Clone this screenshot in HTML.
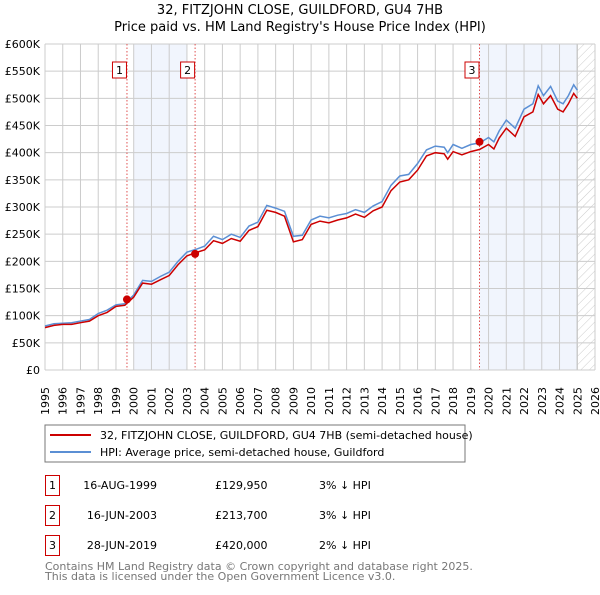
<!DOCTYPE html>
<html><head><meta charset="utf-8"><style>
body{margin:0;background:#fff;font-family:"Liberation Sans","DejaVu Sans",sans-serif;}
svg text{font-family:"DejaVu Sans","Liberation Sans",sans-serif;}
</style></head><body>
<svg id="c" width="600" height="590" xmlns="http://www.w3.org/2000/svg">
<defs><pattern id="hatch" width="6" height="6" patternUnits="userSpaceOnUse" patternTransform="rotate(45)"><line x1="0" y1="0" x2="0" y2="6" stroke="#ccc" stroke-width="1"/></pattern></defs>
<text x="300" y="14" text-anchor="middle" font-size="13" fill="#000">32, FITZJOHN CLOSE, GUILDFORD, GU4 7HB</text>
<text x="300" y="31" text-anchor="middle" font-size="13" fill="#000">Price paid vs. HM Land Registry's House Price Index (HPI)</text>
<g id="plot"></g>
<rect x="45" y="425" width="420" height="37" fill="#fff" stroke="#777"/>
<line x1="50" y1="435" x2="91" y2="435" stroke="#cc0000" stroke-width="2"/>
<text x="100" y="439" font-size="11">32, FITZJOHN CLOSE, GUILDFORD, GU4 7HB (semi-detached house)</text>
<line x1="50" y1="452" x2="91" y2="452" stroke="#5b8fd4" stroke-width="2"/>
<text x="100" y="456" font-size="11">HPI: Average price, semi-detached house, Guildford</text>
<g font-size="11">
<rect x="45.5" y="475.5" width="14" height="20" fill="#fff" stroke="#cc0000"/><text x="52.5" y="489" text-anchor="middle">1</text>
<text x="157" y="489" text-anchor="end">16-AUG-1999</text><text x="215" y="489">£129,950</text><text x="319" y="489">3% ↓ HPI</text>
<rect x="45.5" y="505.5" width="14" height="20" fill="#fff" stroke="#cc0000"/><text x="52.5" y="519" text-anchor="middle">2</text>
<text x="157" y="519" text-anchor="end">16-JUN-2003</text><text x="215" y="519">£213,700</text><text x="319" y="519">3% ↓ HPI</text>
<rect x="45.5" y="535.5" width="14" height="20" fill="#fff" stroke="#cc0000"/><text x="52.5" y="549" text-anchor="middle">3</text>
<text x="157" y="549" text-anchor="end">28-JUN-2019</text><text x="215" y="549">£420,000</text><text x="319" y="549">2% ↓ HPI</text>
</g>
<text x="45" y="570" font-size="11" fill="#777">Contains HM Land Registry data © Crown copyright and database right 2025.</text>
<text x="45" y="580" font-size="11" fill="#777">This data is licensed under the Open Government Licence v3.0.</text>
</svg>
<script>
const years=[1995,1995.5,1996,1996.5,1997,1997.5,1998,1998.5,1999,1999.5,2000,2000.5,2001,2001.5,2002,2002.5,2003,2003.5,2004,2004.5,2005,2005.5,2006,2006.5,2007,2007.5,2008,2008.5,2009,2009.5,2010,2010.5,2011,2011.5,2012,2012.5,2013,2013.5,2014,2014.5,2015,2015.5,2016,2016.5,2017,2017.5,2017.7,2018,2018.5,2019,2019.5,2020,2020.3,2020.6,2021,2021.5,2022,2022.5,2022.8,2023.1,2023.5,2023.9,2024.2,2024.5,2024.8,2025];
const hpi=[81,85,86,87,90,93,104,110,120,122,138,165,163,172,180,200,217,222,228,246,240,250,244,265,272,303,298,292,246,248,276,283,280,285,288,295,290,302,310,340,357,360,380,405,412,410,400,415,408,415,418,428,420,440,460,445,480,490,523,505,522,495,490,505,525,515];
const price=[78,82,84,84,87,90,100,106,117,119,134,160,158,166,174,194,210,216,221,238,233,242,237,257,264,294,290,283,236,240,268,274,271,276,280,287,281,293,300,330,346,350,368,394,400,398,388,402,396,402,406,415,407,427,445,430,466,475,507,490,505,480,475,490,509,500];
const ticksY=[0,50,100,150,200,250,300,350,400,450,500,550,600];
const tickLabelsY=['£0','£50K','£100K','£150K','£200K','£250K','£300K','£350K','£400K','£450K','£500K','£550K','£600K'];
const saleYears=[1999.62,2003.46,2019.49];
const salePrices=[129.95,213.7,420];
const saleLabels=['1','2','3'];
const bands=[[2000.0,2003.0],[2019.49,2025.0]];
const X0=45,X1=595,Y0=370,Y1=44;
const sx=y=>X0+(y-1995)/31*(X1-X0);
const sy=v=>Y0-v/600*(Y0-Y1);
const g=document.getElementById('plot');const NS='http://www.w3.org/2000/svg';
function mk(t,a,p){const e=document.createElementNS(NS,t);for(const k in a)e.setAttribute(k,a[k]);(p||g).appendChild(e);return e;}
bands.forEach(b=>{const r=mk('rect',{x:sx(b[0]),y:Y1,width:sx(b[1])-sx(b[0]),height:Y0-Y1,fill:'#eef3fc',opacity:0.8});

});
const h=mk('rect',{x:sx(2025),y:Y1,width:X1-sx(2025),height:Y0-Y1,fill:'url(#hatch)'});


mk('line',{x1:sx(2025),y1:Y1,x2:sx(2025),y2:Y0,stroke:'#999'});
for(let y=1995;y<=2026;y++){const l=mk('line',{x1:sx(y),y1:Y1,x2:sx(y),y2:Y0,stroke:'#ccc'});


const t=mk('text',{transform:`translate(${sx(y)+4},${Y0+45}) rotate(-90)`,'font-size':11});t.textContent=y;

}
ticksY.forEach((v,i)=>{const l=mk('line',{x1:X0,y1:sy(v),x2:X1,y2:sy(v),stroke:'#ccc'});


const t=mk('text',{x:40,y:sy(v)+4,'text-anchor':'end','font-size':11});t.textContent=tickLabelsY[i];

});
saleYears.forEach((s,i)=>{mk('line',{x1:sx(s),y1:Y1,x2:sx(s),y2:Y0,stroke:'#e05050','stroke-dasharray':'1.5,2'});});
const pts=a=>a.map((v,i)=>sx(years[i]).toFixed(1)+','+sy(v).toFixed(1)).join(' ');
const lb=mk('polyline',{points:pts(hpi),fill:'none',stroke:'#5b8fd4','stroke-width':1.5});


const lr=mk('polyline',{points:pts(price),fill:'none',stroke:'#cc0000','stroke-width':1.5});


saleYears.forEach((s,i)=>{const c=mk('circle',{cx:sx(s),cy:sy(salePrices[i]),r:4,fill:'#cc0000'});


const bx=mk('rect',{x:sx(s)-14.5,y:62,width:14,height:16,fill:'#fff',stroke:'#cc0000'});


const t=mk('text',{x:sx(s)-7.5,y:74,'text-anchor':'middle','font-size':11});t.textContent=saleLabels[i];

});
</script>
</body></html>
